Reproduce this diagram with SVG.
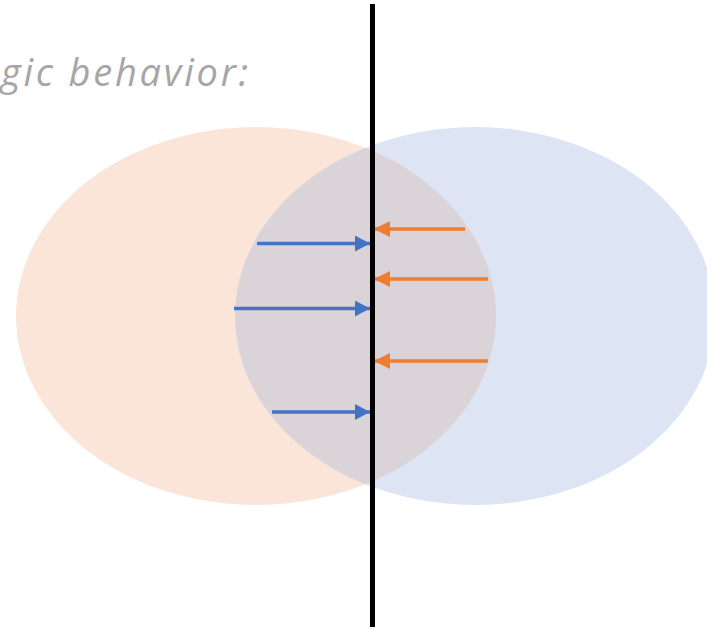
<svg xmlns="http://www.w3.org/2000/svg" width="707" height="630" viewBox="0 0 707 630">
  <style>
    .title { font-family: "Open Sans", "Liberation Sans", sans-serif; font-style: italic; font-size: 38px; fill: #A6A6A6; }
    .blue { stroke: #4472C4; stroke-width: 3.5; fill: none; }
    .orange { stroke: #ED7D31; stroke-width: 3.5; fill: none; }
  </style>
  <defs>
    <marker id="headBlue" markerUnits="userSpaceOnUse" markerWidth="16" markerHeight="16" refX="15" refY="8" orient="auto">
      <path d="M0,0 L15,8 L0,16 Z" fill="#4472C4"/>
    </marker>
    <marker id="headOrange" markerUnits="userSpaceOnUse" markerWidth="17" markerHeight="16" refX="16" refY="8" orient="auto">
      <path d="M0,0 L16,8 L0,16 Z" fill="#ED7D31"/>
    </marker>
    <clipPath id="rightClip">
      <ellipse cx="475" cy="316" rx="240" ry="189"/>
    </clipPath>
  </defs>

  <rect width="707" height="630" fill="#FFFFFF"/>

  <text class="title" x="1" y="86" textLength="247" lengthAdjust="spacing">gic behavior:</text>

  <g id="left-set">
    <ellipse cx="256" cy="316" rx="240" ry="189" fill="#FAE5D8"/>
  </g>
  <g id="right-set">
    <ellipse cx="475" cy="316" rx="240" ry="189" fill="#DDE4F4"/>
  </g>
  <g id="overlap">
    <ellipse cx="256" cy="316" rx="240" ry="189" fill="#DAD4D8" clip-path="url(#rightClip)"/>
  </g>

  <g id="connectors">
    <line class="blue" x1="257" y1="243.5" x2="370" y2="243.5" marker-end="url(#headBlue)"/>
    <line class="blue" x1="234" y1="308.5" x2="370" y2="308.5" marker-end="url(#headBlue)"/>
    <line class="blue" x1="272" y1="412" x2="370" y2="412" marker-end="url(#headBlue)"/>
    <line class="orange" x1="465" y1="229" x2="374" y2="229" marker-end="url(#headOrange)"/>
    <line class="orange" x1="488" y1="279" x2="374" y2="279" marker-end="url(#headOrange)"/>
    <line class="orange" x1="488" y1="361" x2="374" y2="361" marker-end="url(#headOrange)"/>
  </g>

  <g id="divider">
    <line x1="372.5" y1="4" x2="372.5" y2="627" stroke="#000000" stroke-width="5"/>
  </g>
</svg>
